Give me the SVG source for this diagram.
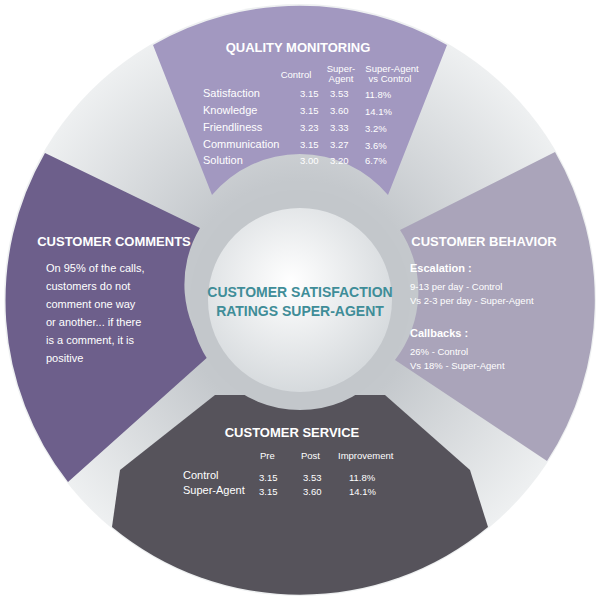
<svg xmlns="http://www.w3.org/2000/svg" width="600" height="600" viewBox="0 0 600 600">
<defs>
<radialGradient id="ring" cx="50%" cy="50%" r="50%"><stop offset="0.4" stop-color="#c4c8cc"/><stop offset="1" stop-color="#eef0f1"/></radialGradient>
<radialGradient id="hub" cx="45%" cy="40%" r="60%"><stop offset="0" stop-color="#ffffff"/><stop offset="1" stop-color="#d6dadd"/></radialGradient>
</defs>
<style>
.h{font-family:"Liberation Sans",Arial,sans-serif;font-weight:bold;fill:#fff;font-size:13px}
.t{font-family:"Liberation Sans",Arial,sans-serif;fill:#fff;font-size:11px}
.s{font-family:"Liberation Sans",Arial,sans-serif;fill:#fff;font-size:9.5px}
.c{font-family:"Liberation Sans",Arial,sans-serif;font-weight:bold;fill:#3f8d98;font-size:14px}
</style>
<circle cx="300" cy="300" r="296" fill="url(#ring)"/>
<g id="quality">
<path d="M153,45 A295,295 0 0 1 447,45 L388,195 A115,115 0 0 0 212,195 Z" fill="#a298c0"/>
<text class="h" x="298" y="52" text-anchor="middle">QUALITY MONITORING</text>
<text class="s" x="296" y="78" text-anchor="middle">Control</text>
<text class="s" x="341" y="72" text-anchor="middle">Super-</text><text class="s" x="341" y="82" text-anchor="middle">Agent</text>
<text class="s" x="392" y="72" text-anchor="middle">Super-Agent</text><text class="s" x="390" y="82" text-anchor="middle">vs Control</text>
<g class="t"><text x="203" y="97">Satisfaction</text><text x="203" y="114">Knowledge</text><text x="203" y="131">Friendliness</text><text x="203" y="148">Communication</text><text x="203" y="164">Solution</text></g>
<g class="s"><text x="300" y="97">3.15</text><text x="330" y="97">3.53</text><text x="365" y="98">11.8%</text>
<text x="300" y="114">3.15</text><text x="330" y="114">3.60</text><text x="365" y="115">14.1%</text>
<text x="300" y="131">3.23</text><text x="330" y="131">3.33</text><text x="365" y="132">3.2%</text>
<text x="300" y="148">3.15</text><text x="330" y="148">3.27</text><text x="365" y="149">3.6%</text>
<text x="300" y="164">3.00</text><text x="330" y="164">3.20</text><text x="365" y="164">6.7%</text></g>
</g>
<g id="comments">
<path d="M45,153 A295,295 0 0 0 68,482 L210,355 A110,110 0 0 1 200,228 Z" fill="#6d5f8b"/>
<text class="h" x="114" y="246" text-anchor="middle">CUSTOMER COMMENTS</text>
<g class="t" font-size="12"><text x="46" y="272">On 95% of the calls,</text><text x="46" y="290">customers do not</text><text x="46" y="308">comment one way</text><text x="46" y="326">or another... if there</text><text x="46" y="344">is a comment, it is</text><text x="46" y="362">positive</text></g>
</g>
<g id="behavior">
<path d="M555,152 A295,295 0 0 1 547,461 L395,360 A112,112 0 0 0 400,230 Z" fill="#aaa4ba"/>
<text class="h" x="484" y="246" text-anchor="middle">CUSTOMER BEHAVIOR</text>
<text class="t" x="410" y="272" font-weight="bold" font-size="13">Escalation :</text>
<text class="s" x="410" y="290">9-13 per day - Control</text>
<text class="s" x="410" y="304">Vs 2-3 per day  - Super-Agent</text>
<text class="t" x="410" y="337" font-weight="bold" font-size="13">Callbacks :</text>
<text class="s" x="410" y="355">26% - Control</text>
<text class="s" x="410" y="369">Vs  18% - Super-Agent</text>
</g>
<g id="service">
<path d="M112,527 A295,295 0 0 0 488,527 L470,470 L385,395 L215,395 L120,470 Z" fill="#56535b"/>
<text class="h" x="292" y="437" text-anchor="middle">CUSTOMER SERVICE</text>
<g class="s"><text x="260" y="459">Pre</text><text x="301" y="459">Post</text><text x="338" y="459">Improvement</text>
<text x="259" y="481">3.15</text><text x="303" y="481">3.53</text><text x="349" y="481">11.8%</text>
<text x="259" y="495">3.15</text><text x="303" y="495">3.60</text><text x="349" y="495">14.1%</text></g>
<text class="t" x="183" y="479">Control</text><text class="t" x="183" y="494">Super-Agent</text>
</g>
<g id="center">
<circle cx="300" cy="300" r="110" fill="#c3c7cb"/>
<circle cx="300" cy="300" r="92" fill="url(#hub)"/>
<text class="c" x="300" y="297" text-anchor="middle">CUSTOMER SATISFACTION</text>
<text class="c" x="300" y="316" text-anchor="middle">RATINGS SUPER-AGENT</text>
</g>
</svg>
